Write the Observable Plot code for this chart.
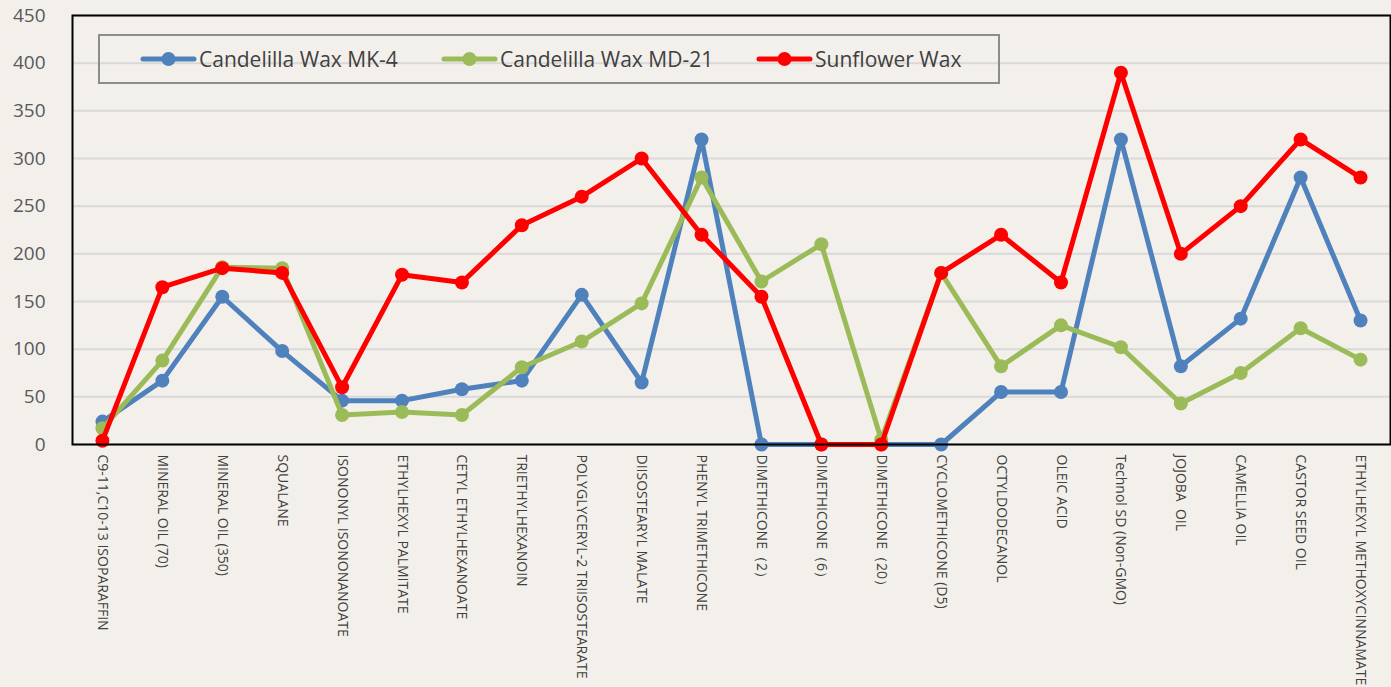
<!DOCTYPE html>
<html>
<head>
<meta charset="utf-8">
<script src="https://cdn.jsdelivr.net/npm/d3@7"></script>
<script src="https://cdn.jsdelivr.net/npm/@observablehq/plot@0.6"></script>
<style>
  html, body { margin: 0; padding: 0; background: #F3F0EB; }
  #wrap { position: relative; width: 1391px; height: 687px; }
  #legend {
    position: absolute; left: 98px; top: 34px; width: 898px; height: 46px;
    border: 2px solid #8C8C8C; box-sizing: content-box;
    font-family: "Open Sans", sans-serif; font-size: 21px; color: #404040;
  }
  .item { position: absolute; top: 0; height: 46px; display: flex; align-items: center; }
  .item svg { display: block; margin-right: 2px; }
</style>
</head>
<body>
<div id="wrap">
  <div id="chart"></div>
  <div id="legend"></div>
</div>
<script>
const categories = [
  "C9-11,C10-13 ISOPARAFFIN", "MINERAL OIL (70)", "MINERAL OIL (350)", "SQUALANE",
  "ISONONYL ISONONANOATE", "ETHYLHEXYL PALMITATE", "CETYL ETHYLHEXANOATE", "TRIETHYLHEXANOIN",
  "POLYGLYCERYL-2 TRIISOSTEARATE", "DIISOSTEARYL MALATE", "PHENYL TRIMETHICONE", "DIMETHICONE（2）",
  "DIMETHICONE（6）", "DIMETHICONE（20）", "CYCLOMETHICONE (D5)", "OCTYLDODECANOL",
  "OLEIC ACID", "Technol SD (Non-GMO)", "JOJOBA  OIL", "CAMELLIA OIL",
  "CASTOR SEED OIL", "ETHYLHEXYL METHOXYCINNAMATE"
];
const seriesNames = ["Candelilla Wax MK-4", "Candelilla Wax MD-21", "Sunflower Wax"];
const seriesColors = ["#4F81BD", "#9BBB59", "#FF0000"];
const mk4 = [24, 67, 155, 98, 46, 46, 58, 67, 157, 65, 320, 0, 0, 0, 0, 55, 55, 320, 82, 132, 280, 130];
const md21 = [17, 88, 186, 185, 31, 34, 31, 81, 108, 148, 280, 171, 210, 5, 180, 82, 125, 102, 43, 75, 122, 89];
const sunflower = [4, 165, 185, 180, 60, 178, 170, 230, 260, 300, 220, 155, 0, 0, 180, 220, 170, 390, 200, 250, 320, 280];
const yTicks = [0, 50, 100, 150, 200, 250, 300, 350, 400, 450];

const seriesValues = [mk4, md21, sunflower];
const marks = [
  Plot.gridY(yTicks, {stroke: "#D9D9D9", strokeWidth: 2, strokeOpacity: 1}),
  Plot.axisY(yTicks, {tickSize: 0, tickPadding: 27, fontSize: 19, fill: "#595959", fontFamily: "Open Sans", label: null}),
  Plot.axisX({tickRotate: 90, tickSize: 0, tickPadding: 10, fontSize: 14, fill: "#404040", fontFamily: "Open Sans", label: null}),
];
seriesValues.forEach((vals, i) => {
  const rows = categories.map((c, j) => ({cat: c, value: vals[j]}));
  marks.push(Plot.line(rows, {x: "cat", y: "value", stroke: seriesColors[i], strokeWidth: 5, strokeLinejoin: "round"}));
  marks.push(Plot.dot(rows, {x: "cat", y: "value", fill: seriesColors[i], r: 7}));
});
marks.push(Plot.frame({stroke: "#000", strokeWidth: 2}));

const chart = Plot.plot({
  width: 1391, height: 687,
  marginLeft: 72, marginRight: 1, marginTop: 15, marginBottom: 243,
  style: {background: "#F3F0EB", overflow: "visible"},
  x: {type: "point", domain: categories, padding: 0.5, round: false},
  y: {domain: [0, 450]},
  marks
});
document.getElementById("chart").appendChild(chart);

const legendLefts = [40, 341, 656];
const legend = document.getElementById("legend");
seriesNames.forEach((name, i) => {
  const d = document.createElement("div");
  d.className = "item";
  d.style.left = legendLefts[i] + "px";
  d.innerHTML = `<svg width="57" height="16"><line x1="3" y1="8" x2="54" y2="8" stroke="${seriesColors[i]}" stroke-width="5" stroke-linecap="round"/><circle cx="28.5" cy="8" r="7" fill="${seriesColors[i]}"/></svg><span>${name}</span>`;
  legend.appendChild(d);
});
</script>
</body>
</html>
